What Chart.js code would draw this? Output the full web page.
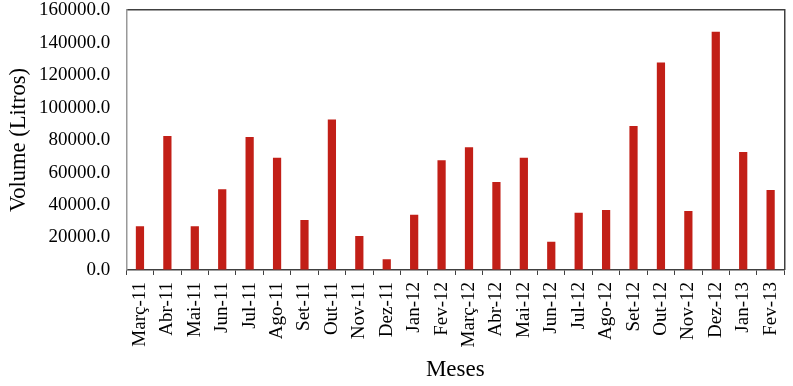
<!DOCTYPE html>
<html>
<head>
<meta charset="utf-8">
<script src="https://cdn.jsdelivr.net/npm/chart.js@4/dist/chart.umd.min.js"></script>
<style>
  html, body { margin: 0; padding: 0; background: #fff; }
  #wrap { width: 793px; height: 386px; }
</style>
</head>
<body>
<div id="wrap"><canvas id="volChart"></canvas></div>
<script>
// monthly volume (litres)
const months = ['Març-11', 'Abr-11', 'Mai-11', 'Jun-11', 'Jul-11', 'Ago-11', 'Set-11', 'Out-11',
  'Nov-11', 'Dez-11', 'Jan-12', 'Fev-12', 'Març-12', 'Abr-12', 'Mai-12', 'Jun-12', 'Jul-12',
  'Ago-12', 'Set-12', 'Out-12', 'Nov-12', 'Dez-12', 'Jan-13', 'Fev-13'];
const volumes = [27000, 82500, 27000, 49700, 81800, 69100, 30800, 92700,
  20900, 6600, 34000, 67500, 75500, 54100, 69100, 17400, 35300,
  36900, 88600, 127800, 36300, 146700, 72600, 49200];
const yTicks = [0, 20000, 40000, 60000, 80000, 100000, 120000, 140000, 160000];

const serif = '"Liberation Serif", "Times New Roman", serif';
const barColor = '#C21F17';

new Chart(document.getElementById('volChart'), {
  type: 'bar',
  data: {
    labels: months,
    datasets: [{
      data: volumes,
      backgroundColor: barColor,
      borderWidth: 0,
      categoryPercentage: 1,
      barPercentage: 0.3,
    }],
  },
  options: {
    responsive: true,
    maintainAspectRatio: false,
    animation: false,
    layout: { padding: { top: 0, right: 1, left: 6, bottom: 2 } },
    plugins: { legend: { display: false }, tooltip: { enabled: false } },
    scales: {
      x: {
        ticks: { color: '#000', font: { family: serif, size: 19, lineHeight: 0.8 }, minRotation: 90, maxRotation: 90, padding: 7, autoSkip: false },
        grid: { drawOnChartArea: false, drawTicks: true, tickLength: 5, color: '#404040', offset: true },
        border: { color: '#404040', width: 1.5 },
        title: { display: true, text: 'Meses', color: '#000', font: { family: serif, size: 23 }, padding: { top: 2, bottom: 0 } },
      },
      // top and right axes only draw the frame of the plot
      xTop: {
        position: 'top',
        ticks: { display: false },
        grid: { display: false },
        border: { color: '#404040', width: 1.5 },
      },
      y: {
        min: 0,
        max: 160000,
        afterBuildTicks: (axis) => { axis.ticks = yTicks.map((v) => ({ value: v })); },
        ticks: { color: '#000', font: { family: serif, size: 19, lineHeight: 0.85 }, padding: 2, callback: (v) => Number(v).toFixed(1) },
        // invisible tick marks keep the gap between labels and axis
        grid: { drawOnChartArea: false, drawTicks: true, tickLength: 14, color: 'rgba(0,0,0,0)' },
        border: { color: '#999', width: 1.5 },
        title: { display: true, text: 'Volume (Litros)', color: '#000', font: { family: serif, size: 22.5 }, padding: { top: 0, bottom: 4 } },
      },
      yRight: {
        position: 'right',
        min: 0,
        max: 160000,
        ticks: { display: false },
        grid: { display: false, drawTicks: false },
        border: { color: '#404040', width: 1.5 },
      },
    },
  },
});
</script>
</body>
</html>
